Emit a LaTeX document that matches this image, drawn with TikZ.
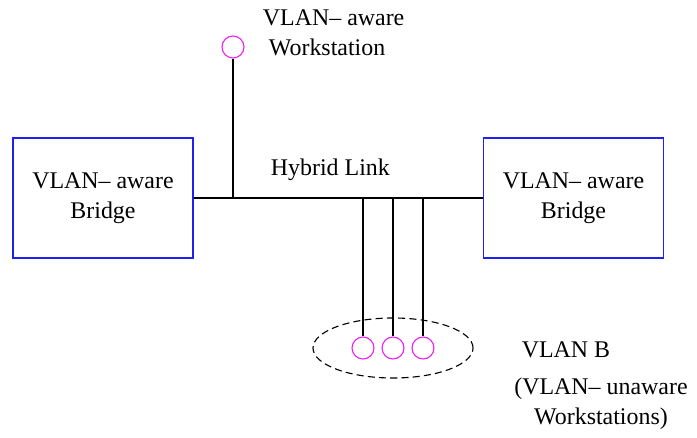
\documentclass[tikz,border=0pt]{standalone}
\usepackage{fontspec}
\setmainfont{Liberation Serif}
\usetikzlibrary{positioning,shapes.geometric}
\definecolor{cBox}{HTML}{2020F0}
\definecolor{cSta}{HTML}{F020F0}
\tikzset{
  bridge/.style={draw=cBox, line width=1.2pt, minimum width=4.5cm, minimum height=3cm, align=center},
  station/.style={circle, draw=cSta, line width=0.8pt, minimum size=0.55cm, inner sep=0pt},
  wire/.style={line width=1pt}
}

\begin{document}
\begin{tikzpicture}[x=0.025cm, y=-0.025cm, font=\fontsize{17}{21}\selectfont]
    \useasboundingbox (0,0) rectangle (697,438);
    \node[bridge] (lb) at (103,198) {VLAN-- aware\\Bridge};
    \node[bridge] (rb) at (573.5,198) {VLAN-- aware\\Bridge};
    % hybrid link and its taps
    \draw[wire] (lb.east) -- (rb.west);
    \node[anchor=west] (hl) at (266,170) {Hybrid Link};
    \coordinate (j0) at (233,198);
    \node[station] (ws) at (233,47) {};
    \draw[wire] (ws) -- (j0);
    \node[anchor=west, align=left] (wsl) at (258,33) {VLAN-- aware\\\ Workstation};
    % VLAN B group
    \node[ellipse, draw, line width=0.8pt, dash pattern=on 5pt off 3pt, minimum width=4cm, minimum height=1.5cm] (grp) at (393,348) {};
    \foreach \i/\x in {1/363, 2/393, 3/423} {
      \coordinate (t\i) at (\x,198);
      \node[station] (s\i) at (\x,348) {};
      \draw[wire] (t\i) -- (s\i);
    }
    \node (vb) at (566,350) {VLAN B};
    \node[align=center] (vbl) at (601,404) {(VLAN-- unaware\\Workstations)};
  \end{tikzpicture}
\end{document}
